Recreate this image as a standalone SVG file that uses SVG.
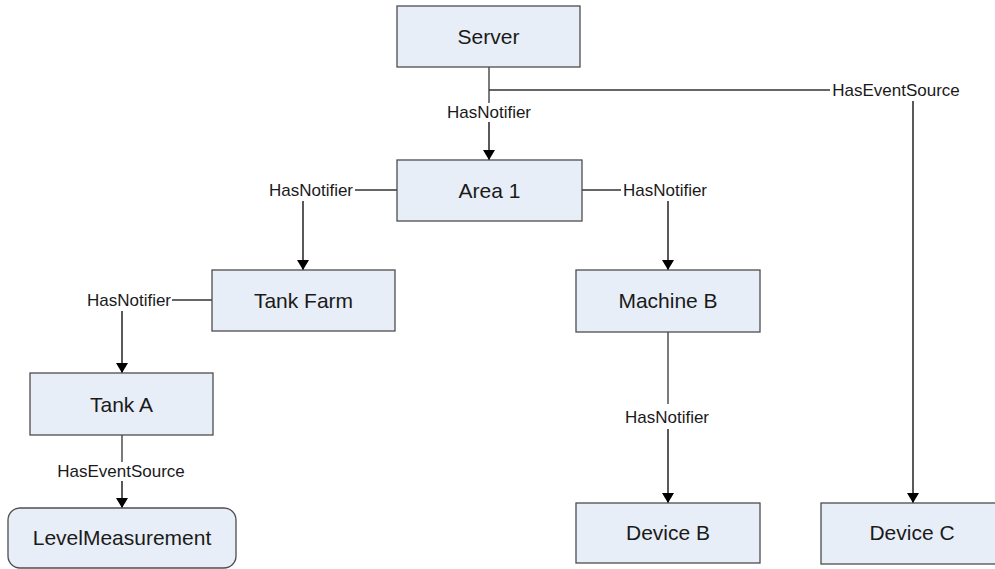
<svg xmlns="http://www.w3.org/2000/svg" width="995" height="569" viewBox="0 0 995 569">
<defs>
<marker id="arr" viewBox="0 0 10 12" refX="10" refY="6" markerWidth="10" markerHeight="12" markerUnits="userSpaceOnUse" orient="auto">
<path d="M0,0 L10,6 L0,12 Z" fill="#000"/>
</marker>
<style>
.box{fill:#e8eef7;stroke:#4d4d4d;stroke-width:1.3}
.nt{font-family:"Liberation Sans",Arial,sans-serif;font-size:21px;fill:#1a1a1a;text-anchor:middle}
.lb{font-family:"Liberation Sans",Arial,sans-serif;font-size:17px;fill:#1a1a1a;text-anchor:middle}
.ln{fill:none;stroke:#333;stroke-width:1.3}
.ar{fill:none;stroke:#000;stroke-width:1.3;marker-end:url(#arr)}
</style>
</defs>
<rect width="995" height="569" fill="#fff"/>
<g id="connectors">
<g id="c-server-area1">
<line class="ln" x1="489" y1="67" x2="489" y2="103"/>
<line class="ar" x1="489" y1="122" x2="489" y2="160"/>
<text class="lb" x="489" y="118">HasNotifier</text>
</g>
<g id="c-server-devicec">
<polyline class="ln" points="489,90 830,90"/>
<line class="ar" x1="913" y1="101" x2="913" y2="503"/>
<text class="lb" x="896" y="96">HasEventSource</text>
</g>
<g id="c-area1-tankfarm">
<line class="ln" x1="397" y1="190" x2="355" y2="190"/>
<line class="ar" x1="303" y1="201" x2="303" y2="270"/>
<text class="lb" x="311" y="196">HasNotifier</text>
</g>
<g id="c-area1-machineb">
<line class="ln" x1="582" y1="190" x2="621" y2="190"/>
<line class="ar" x1="668" y1="201" x2="668" y2="270"/>
<text class="lb" x="665" y="196">HasNotifier</text>
</g>
<g id="c-tankfarm-tanka">
<line class="ln" x1="212" y1="300" x2="172" y2="300"/>
<line class="ar" x1="122" y1="311" x2="122" y2="373"/>
<text class="lb" x="129" y="306">HasNotifier</text>
</g>
<g id="c-tanka-level">
<line class="ln" x1="122" y1="435" x2="122" y2="462"/>
<line class="ar" x1="122" y1="481" x2="122" y2="508"/>
<text class="lb" x="121" y="477">HasEventSource</text>
</g>
<g id="c-machineb-deviceb">
<line class="ln" x1="668" y1="332" x2="668" y2="404"/>
<line class="ar" x1="668" y1="429" x2="668" y2="503"/>
<text class="lb" x="667" y="423">HasNotifier</text>
</g>
</g>
<g id="server"><rect class="box" x="397" y="6" width="183" height="61"/><text class="nt" x="488.5" y="44">Server</text></g>
<g id="area1"><rect class="box" x="397" y="160" width="185" height="61"/><text class="nt" x="489.5" y="198">Area 1</text></g>
<g id="tankfarm"><rect class="box" x="212" y="270" width="183" height="61"/><text class="nt" x="303.5" y="308">Tank Farm</text></g>
<g id="machineb"><rect class="box" x="576" y="270" width="184" height="62"/><text class="nt" x="668" y="308">Machine B</text></g>
<g id="tanka"><rect class="box" x="30" y="373" width="183" height="62"/><text class="nt" x="121.5" y="411.5">Tank A</text></g>
<g id="levelmeasurement"><rect class="box" x="8" y="508" width="228" height="60" rx="12" ry="12"/><text class="nt" x="122" y="545">LevelMeasurement</text></g>
<g id="deviceb"><rect class="box" x="576" y="503" width="184" height="60"/><text class="nt" x="668" y="540">Device B</text></g>
<g id="devicec"><rect class="box" x="821" y="503" width="183" height="61"/><text class="nt" x="912" y="540">Device C</text></g>
</svg>
